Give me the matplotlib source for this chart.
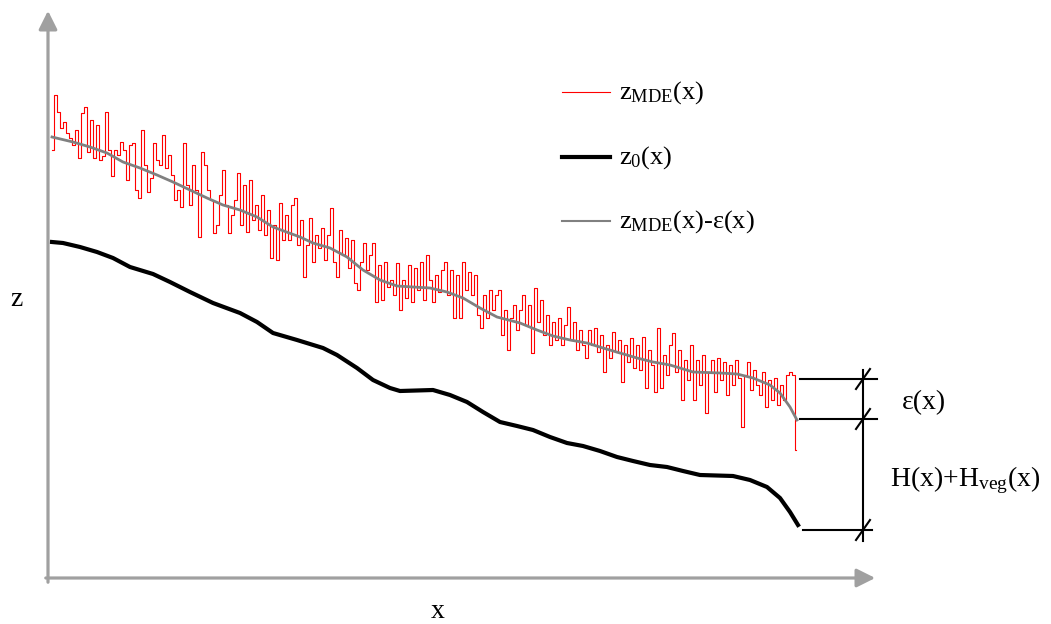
import numpy as np
import matplotlib.pyplot as plt

plt.rcParams['font.family'] = ['Liberation Serif', 'DejaVu Serif']
plt.rcParams['mathtext.fontset'] = 'custom'
plt.rcParams['mathtext.rm'] = 'Liberation Serif'
plt.rcParams['mathtext.it'] = 'Liberation Serif'

# schematic profile, drawn in picture units (z grows downward on screen)
x_mde = np.arange(52, 797, 3)
z_mde = [150, 95, 112, 128, 122, 133, 138, 145, 130, 158,
         113, 107, 152, 120, 158, 125, 160, 156, 112, 150,
         176, 150, 155, 142, 150, 180, 145, 143, 190, 198,
         130, 165, 192, 178, 143, 160, 165, 135, 168, 155,
         175, 200, 190, 207, 143, 185, 205, 165, 190, 237,
         152, 165, 190, 200, 233, 225, 195, 170, 205, 233,
         215, 200, 173, 225, 185, 232, 180, 220, 205, 230,
         195, 235, 210, 258, 225, 260, 203, 240, 215, 240,
         205, 198, 245, 220, 277, 245, 218, 262, 235, 248,
         228, 260, 235, 208, 262, 277, 230, 255, 238, 268,
         240, 283, 290, 262, 243, 270, 255, 243, 302, 265,
         300, 262, 287, 280, 295, 263, 310, 280, 298, 265,
         302, 268, 290, 262, 300, 255, 280, 302, 275, 292,
         270, 262, 295, 270, 318, 275, 318, 262, 290, 272,
         295, 275, 315, 328, 295, 318, 290, 310, 295, 290,
         335, 310, 350, 318, 305, 330, 310, 295, 325, 305,
         353, 288, 322, 300, 335, 315, 345, 322, 340, 318,
         345, 325, 307, 340, 322, 350, 330, 345, 358, 330,
         345, 328, 352, 335, 372, 345, 358, 332, 352, 340,
         382, 345, 362, 338, 368, 345, 370, 337, 388, 350,
         365, 392, 328, 388, 355, 375, 345, 333, 372, 350,
         400, 360, 380, 345, 400, 360, 385, 355, 413, 372,
         360, 392, 358, 380, 362, 395, 365, 385, 360, 378,
         427, 375, 362, 390, 370, 385, 395, 372, 407, 380,
         400, 378, 405, 385, 400, 375, 372, 375, 450]

x_corr = [52, 73, 90, 107, 123, 140, 157, 173, 190, 207, 223, 240, 257, 273, 300, 313,
          330, 347, 363, 380, 397, 413, 430, 447, 463, 480, 497, 520, 537, 553, 570, 587,
          603, 620, 637, 653, 670, 693, 720, 737, 753, 770, 780, 790, 797]
z_corr = [137, 142, 147, 153, 162, 168, 175, 182, 190, 198, 205, 210, 217, 227, 237, 243,
          248, 257, 270, 280, 286, 287, 288, 292, 298, 308, 317, 323, 330, 336, 340, 343,
          348, 353, 358, 362, 365, 372, 373, 374, 378, 385, 393, 407, 420]

x_0 = [52, 63, 80, 97, 113, 130, 153, 170, 190, 213, 240, 257, 273, 297, 323, 337, 357,
       373, 390, 400, 433, 450, 467, 483, 500, 517, 533, 550, 567, 583, 600, 617, 633,
       650, 667, 683, 700, 733, 750, 767, 780, 790, 798]
z_0 = [242, 243, 247, 252, 258, 267, 274, 282, 292, 303, 313, 322, 333, 340, 348, 355,
       368, 380, 388, 391, 390, 395, 402, 412, 422, 426, 430, 437, 443, 446, 451, 457,
       461, 465, 467, 471, 475, 476, 480, 487, 498, 512, 525]

legend_labels = [r'z$_{\mathrm{MDE}}$(x)', r'z$_{\mathrm{0}}$(x)', r'z$_{\mathrm{MDE}}$(x)-ε(x)']

fig = plt.figure(figsize=(10.51, 6.24), dpi=100)
ax = fig.add_axes([0, 0, 1, 1])
ax.set_xlim(0, 1051)
ax.set_ylim(624, 0)
ax.axis('off')

axis_col = '#a0a0a0'
ax.annotate('', xy=(48, 8), xytext=(48, 585),
            arrowprops=dict(arrowstyle='-|>', color=axis_col, lw=2.3, mutation_scale=28))
ax.annotate('', xy=(878, 578), xytext=(43, 578),
            arrowprops=dict(arrowstyle='-|>', color=axis_col, lw=2.3, mutation_scale=28))

styles = [dict(color='red', lw=0.8), dict(color='black', lw=3.0), dict(color='#808080', lw=2.0)]
ax.plot(x_mde, z_mde, drawstyle='steps-mid', **styles[0])
ax.plot(x_0, z_0, **styles[1])
ax.plot(x_corr, z_corr, **styles[2])

ax.text(16, 300, 'z', fontsize=20, ha='center', va='center')
ax.text(438, 612, 'x', fontsize=20, ha='center', va='center')

# legend, placed by hand
for i, (lab, st) in enumerate(zip(legend_labels, styles)):
    y = 92 + 64.5 * i
    ax.plot([562, 610], [y, y], **(st if i != 2 else dict(color='#808080', lw=1.5)))
    ax.text(619, y + 1, lab, fontsize=19, ha='left', va='center')

# epsilon / height brackets on the right
for y in [379, 419]:
    ax.plot([800, 877], [y, y], color='black', lw=1.5)
ax.plot([803, 872], [530, 530], color='black', lw=1.5)
ax.plot([863, 863], [370, 541], color='black', lw=1.5)
for y in [379, 419, 530]:
    ax.plot([856, 870], [y + 10, y - 10], color='black', lw=1.5)
ax.text(902, 403, 'ε(x)', fontsize=20, va='center', ha='left')
ax.text(890, 480, r'H(x)+H$_{\mathrm{veg}}$(x)', fontsize=20, va='center', ha='left')

fig.savefig('out.png', dpi=100)
